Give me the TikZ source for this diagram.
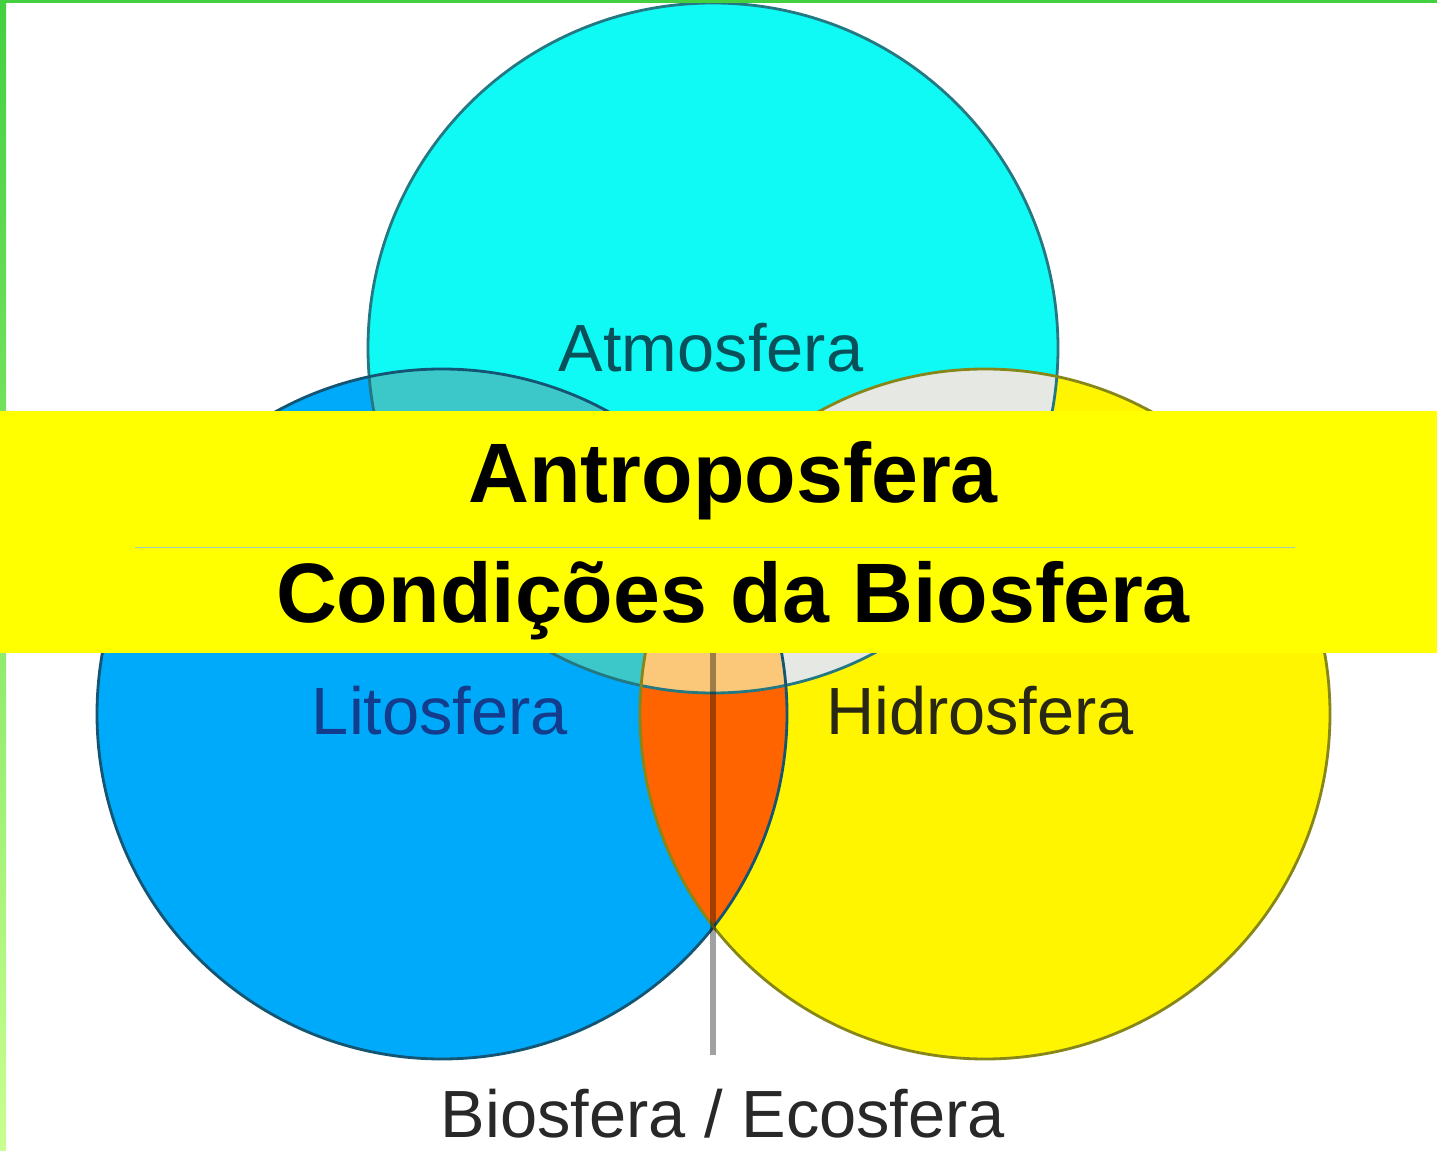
\documentclass[tikz,border=0pt]{standalone}
\usepackage{fontspec}
\setmainfont{Liberation Sans}

\definecolor{atmo}{RGB}{15,250,245}
\definecolor{lito}{RGB}{0,170,250}
\definecolor{hidro}{RGB}{255,245,0}
\definecolor{bioorange}{RGB}{255,100,0}
\definecolor{atlito}{RGB}{60,200,200}
\definecolor{athidro}{RGB}{230,232,228}
\definecolor{triple}{RGB}{250,200,120}
\definecolor{bandyellow}{RGB}{255,255,0}
\definecolor{framegreen}{RGB}{68,208,64}
\definecolor{framelight}{RGB}{200,255,144}

\tikzset{
  sphere label/.style={inner sep=0pt, anchor=base, font=\fontsize{38}{46}\selectfont},
  band text/.style={inner sep=0pt, anchor=base, font=\fontsize{48}{58}\selectfont\bfseries}
}

\begin{document}
\begin{tikzpicture}[x=0.02cm,y=-0.02cm]
    \useasboundingbox (0,0) rectangle (1437,1151);
    \def\rad{345}

    \coordinate (A) at (713,348); % Atmosfera
    \coordinate (L) at (442,714); % Litosfera
    \coordinate (H) at (985,714); % Hidrosfera

    % circles and overlaps %
    \fill[atmo] (A) circle (\rad);
    \fill[lito] (L) circle (\rad);
    \fill[hidro] (H) circle (\rad);
    \begin{scope}
        \clip (L) circle (\rad);
        \fill[bioorange] (H) circle (\rad);
    \end{scope}
    \begin{scope}
        \clip (A) circle (\rad);
        \fill[atlito] (L) circle (\rad);
    \end{scope}
    \begin{scope}
        \clip (A) circle (\rad);
        \fill[athidro] (H) circle (\rad);
    \end{scope}
    \begin{scope}
        \clip (A) circle (\rad);
        \clip (L) circle (\rad);
        \fill[triple] (H) circle (\rad);
    \end{scope}

    \draw[line width=1.6pt, draw={rgb,255:red,35;green,120;blue,130}] (A) circle (\rad);
    \draw[line width=1.6pt, draw={rgb,255:red,20;green,85;blue,115}] (L) circle (\rad);
    \draw[line width=1.6pt, draw={rgb,255:red,135;green,135;blue,25}] (H) circle (\rad);

    % stem down to the label %
    \coordinate (lens) at (713,640);
    \coordinate (stem) at (713,1055);
    \draw[line width=3.4pt, black, opacity=0.37] (lens) -- (stem);

    \begin{scope}[every node/.style={sphere label}]
        \node[text={rgb,255:red,10;green,80;blue,90}] (atmos) at (711,372) {Atmosfera};
        \node[text={rgb,255:red,20;green,60;blue,140}] (litos) at (440,735) {Litosfera};
        \node[text={rgb,255:red,40;green,40;blue,20}] (hidros) at (980,735) {Hidrosfera};
        \node[text={rgb,255:red,40;green,40;blue,40}] (bios) at (723,1137) {Biosfera / Ecosfera};
    \end{scope}

    % green frame %
    \shade[top color=framegreen, bottom color=framelight] (0,0) rectangle (6,1151);
    \fill[framegreen] (0,0) rectangle (1437,3);

    % yellow band %
    \fill[bandyellow] (0,411) rectangle (1437,653);
    \draw[line width=0.5pt, draw={rgb,255:red,160;green,205;blue,190}] (135,547) -- (1295,547);
    \node[band text] (antro) at (733,503) {Antroposfera};
    \node[band text] (cond) at (733,623) {Condições da Biosfera};
\end{tikzpicture}
\end{document}
